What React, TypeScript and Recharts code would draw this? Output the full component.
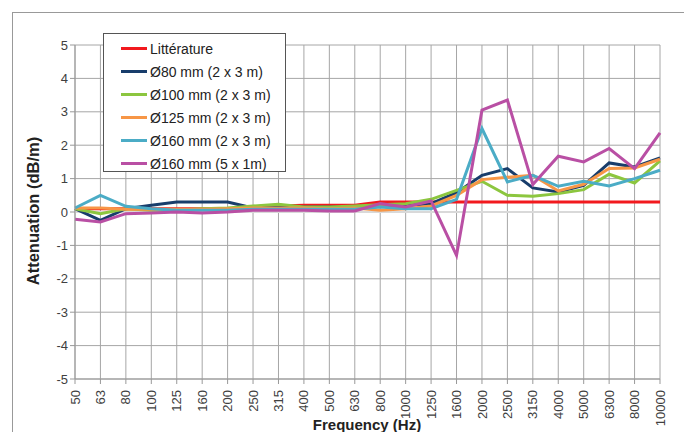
import React from 'react';
import { LineChart, Line, XAxis, YAxis, CartesianGrid, Legend, ReferenceLine } from 'recharts';

const frequencies = ['50', '63', '80', '100', '125', '160', '200', '250', '315', '400', '500', '630', '800', '1000', '1250', '1600', '2000', '2500', '3150', '4000', '5000', '6300', '8000', '10000'];

const litterature = [0.1, 0.1, 0.1, 0.1, 0.1, 0.1, 0.1, 0.15, 0.18, 0.2, 0.2, 0.2, 0.3, 0.3, 0.3, 0.3, 0.3, 0.3, 0.3, 0.3, 0.3, 0.3, 0.3, 0.3];
const d80 = [0.1, -0.25, 0.1, 0.2, 0.3, 0.3, 0.3, 0.12, 0.15, 0.15, 0.15, 0.15, 0.2, 0.2, 0.25, 0.58, 1.1, 1.3, 0.72, 0.6, 0.8, 1.47, 1.35, 1.62];
const d100 = [0.1, -0.05, 0.1, 0.05, 0.05, 0.1, 0.12, 0.18, 0.23, 0.15, 0.15, 0.18, 0.22, 0.25, 0.38, 0.65, 0.92, 0.5, 0.47, 0.55, 0.67, 1.13, 0.87, 1.53];
const d125 = [0.12, 0.12, 0.08, 0.08, 0.08, 0.08, 0.1, 0.12, 0.12, 0.12, 0.1, 0.12, 0.05, 0.1, 0.18, 0.5, 0.97, 1.04, 1.1, 0.63, 0.83, 1.3, 1.32, 1.58];
const d160 = [0.12, 0.5, 0.17, 0.1, 0.05, 0.05, 0.05, 0.08, 0.08, 0.08, 0.08, 0.08, 0.15, 0.1, 0.1, 0.38, 2.5, 0.9, 1.1, 0.77, 0.92, 0.78, 1.0, 1.25];
const d160b = [-0.22, -0.3, -0.05, -0.03, 0, -0.03, 0, 0.05, 0.05, 0.05, 0.03, 0.03, 0.25, 0.15, 0.33, -1.3, 3.05, 3.35, 0.82, 1.67, 1.5, 1.9, 1.3, 2.37];

const yTicks = [-5, -4, -3, -2, -1, 0, 1, 2, 3, 4, 5];

const series = [
  { key: 'lit', name: 'Littérature', color: '#F2191E' },
  { key: 'd80', name: 'Ø80 mm (2 x 3 m)', color: '#183D6B' },
  { key: 'd100', name: 'Ø100 mm (2 x 3 m)', color: '#8CC63F' },
  { key: 'd125', name: 'Ø125 mm (2 x 3 m)', color: '#F79646' },
  { key: 'd160', name: 'Ø160 mm (2 x 3 m)', color: '#4BACC6' },
  { key: 'd160b', name: 'Ø160 mm (5 x 1m)', color: '#B94FA4' },
];

const data = frequencies.map((f, i) => ({
  freq: f,
  lit: litterature[i],
  d80: d80[i],
  d100: d100[i],
  d125: d125[i],
  d160: d160[i],
  d160b: d160b[i],
}));

const FONT = '"Liberation Sans", Arial, sans-serif';

const FreqTick = (props: any) => {
  const { x, y, payload } = props;
  return (
    <g transform={`translate(${x},${y + 4})`}>
      <text transform="rotate(-90)" textAnchor="end" dy="0.35em" fontSize={13} fill="#404040" fontFamily={FONT}>
        {payload.value}
      </text>
    </g>
  );
};

const LegendBox = () => (
  <div style={{ width: 183, height: 139, boxSizing: 'border-box', border: '1px solid #555', background: '#fff', padding: '3px 0 0 0', fontFamily: FONT }}>
    {series.map((s) => (
      <div key={s.key} style={{ display: 'flex', alignItems: 'center', height: 23, fontSize: 14, color: '#222' }}>
        <span style={{ display: 'inline-block', width: 26, height: 3, background: s.color, marginLeft: 17, marginRight: 3 }} />
        <span>{s.name}</span>
      </div>
    ))}
  </div>
);

export default function App() {
  return (
    <div style={{ position: 'absolute', left: 0, top: 0, width: 684, height: 432, overflow: 'hidden', background: '#fff', fontFamily: FONT }}>
      <div style={{ position: 'absolute', left: 12, top: 12, width: 700, height: 450, border: '1px solid #999' }} />
      <div style={{ position: 'absolute', left: 0, top: 0 }}>
        <LineChart width={684} height={432} data={data} margin={{ top: 45, right: 24, left: 0, bottom: 0 }}>
          <CartesianGrid stroke="#A6A6A6" strokeWidth={1} />
          <XAxis
            dataKey="freq"
            interval={0}
            height={53}
            tick={<FreqTick />}
            tickLine={{ stroke: '#999' }}
            tickSize={5}
            axisLine={{ stroke: '#999' }}
          />
          <YAxis
            domain={[-5, 5]}
            ticks={yTicks}
            width={75}
            interval={0}
            tickLine={{ stroke: '#999' }}
            tickSize={5}
            axisLine={{ stroke: '#999' }}
            tick={{ fontSize: 13, fill: '#404040', fontFamily: FONT }}
          />
          <ReferenceLine y={0} stroke="#D9D9D9" strokeWidth={2} />
          <Legend
            layout="vertical"
            align="center"
            verticalAlign="middle"
            wrapperStyle={{ left: 103, top: 33, width: 183 }}
            content={() => <LegendBox />}
          />
          {series.map((s) => (
            <Line
              key={s.key}
              type="linear"
              dataKey={s.key}
              name={s.name}
              stroke={s.color}
              strokeWidth={3}
              dot={false}
              activeDot={false}
              isAnimationActive={false}
            />
          ))}
        </LineChart>
      </div>
      <div style={{ position: 'absolute', left: 367, top: 416, transform: 'translateX(-50%)', fontSize: 15, fontWeight: 'bold', color: '#222', whiteSpace: 'nowrap' }}>
        Frequency (Hz)
      </div>
      <div style={{ position: 'absolute', left: 33, top: 211, transform: 'translate(-50%, -50%) rotate(-90deg)', fontSize: 16.5, fontWeight: 'bold', color: '#222', whiteSpace: 'nowrap' }}>
        Attenuation (dB/m)
      </div>
    </div>
  );
}
